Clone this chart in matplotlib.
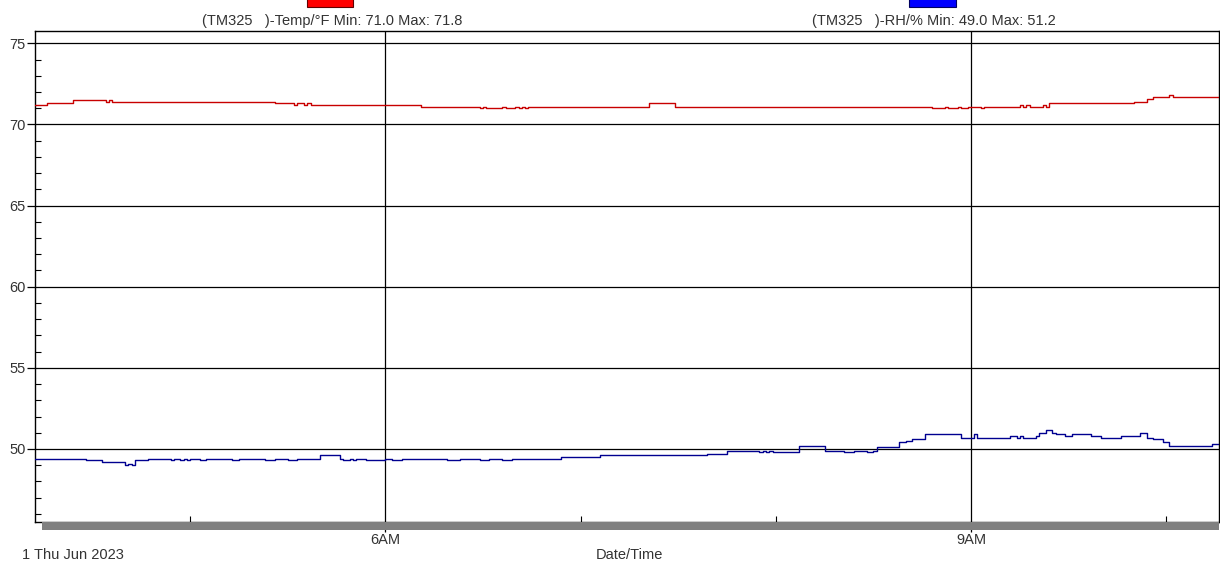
import matplotlib
matplotlib.use("Agg")
import matplotlib.pyplot as plt
from matplotlib.patches import Rectangle
from matplotlib.ticker import FixedLocator, MultipleLocator

plt.rcParams['font.family'] = ['Liberation Sans', 'DejaVu Sans']

# temperature (deg F), step changes
temp_times = ["04:12", "04:16", "04:24", "04:34", "04:35", "04:36", "05:26", "05:32",
              "05:33", "05:35", "05:36", "05:37", "06:11", "06:29", "06:30", "06:31",
              "06:36", "06:37", "06:40", "06:41", "06:42", "06:43", "06:44", "07:21",
              "07:29", "08:48", "08:52", "08:53", "08:56", "08:57", "08:59", "09:03",
              "09:04", "09:15", "09:16", "09:17", "09:18", "09:22", "09:23", "09:24",
              "09:50", "09:54", "09:56", "10:01", "10:02", "10:17"]
temp_vals = [71.2, 71.3, 71.5, 71.4, 71.5, 71.4, 71.3, 71.2,
             71.3, 71.2, 71.3, 71.2, 71.1, 71.0, 71.1, 71.0,
             71.1, 71.0, 71.1, 71.0, 71.1, 71.0, 71.1, 71.3,
             71.1, 71.0, 71.1, 71.0, 71.1, 71.0, 71.1, 71.0,
             71.1, 71.2, 71.1, 71.2, 71.1, 71.2, 71.1, 71.3,
             71.4, 71.6, 71.7, 71.8, 71.7, 71.7]

# relative humidity (%), step changes
rh_times = ["04:12", "04:28", "04:33", "04:40", "04:41", "04:42", "04:43", "04:47",
            "04:54", "04:55", "04:57", "04:58", "04:59", "05:00", "05:03", "05:05",
            "05:13", "05:15", "05:23", "05:26", "05:30", "05:33", "05:40", "05:46",
            "05:47", "05:49", "05:50", "05:51", "05:54", "06:00", "06:02", "06:05",
            "06:19", "06:23", "06:29", "06:32", "06:36", "06:39", "06:54", "07:06",
            "07:39", "07:45", "07:55", "07:56", "07:57", "07:58", "07:59", "08:07",
            "08:15", "08:21", "08:24", "08:28", "08:30", "08:31", "08:38", "08:40",
            "08:42", "08:46", "08:57", "09:01", "09:02", "09:12", "09:14", "09:15",
            "09:16", "09:20", "09:21", "09:23", "09:25", "09:26", "09:29", "09:31",
            "09:37", "09:40", "09:46", "09:52", "09:54", "09:56", "09:59", "10:01",
            "10:14", "10:17"]
rh_vals = [49.4, 49.3, 49.2, 49.0, 49.1, 49.0, 49.3, 49.4,
           49.3, 49.4, 49.3, 49.4, 49.3, 49.4, 49.3, 49.4,
           49.3, 49.4, 49.3, 49.4, 49.3, 49.4, 49.6, 49.4,
           49.3, 49.4, 49.3, 49.4, 49.3, 49.4, 49.3, 49.4,
           49.3, 49.4, 49.3, 49.4, 49.3, 49.4, 49.5, 49.6,
           49.7, 49.9, 49.8, 49.9, 49.8, 49.9, 49.8, 50.2,
           49.9, 49.8, 49.9, 49.8, 49.9, 50.1, 50.4, 50.5,
           50.6, 50.9, 50.7, 50.9, 50.7, 50.8, 50.7, 50.8,
           50.7, 50.8, 51.0, 51.2, 51.0, 50.9, 50.8, 50.9,
           50.8, 50.7, 50.8, 51.0, 50.7, 50.6, 50.4, 50.2,
           50.3, 50.3]

y_ticks = [50, 55, 60, 65, 70, 75]
x_ticks = [6, 9]
x_tick_labels = ["6AM", "9AM"]
temp_label = "(TM325   )-Temp/°F Min: 71.0 Max: 71.8"
rh_label = "(TM325   )-RH/% Min: 49.0 Max: 51.2"


def hours(t):
    h, m = t.split(":")
    return int(h) + int(m) / 60.0


W, H = 1220, 569
fig = plt.figure(figsize=(W / 100, H / 100), dpi=100)
ax = fig.add_axes([35 / W, 1 - 522 / H, 1184 / W, 491 / H])

# gray band under the time axis
fig.patches.append(Rectangle((42 / W, 1 - 530 / H), (1219 - 42) / W, 8 / H,
                             transform=fig.transFigure, facecolor="#808080",
                             edgecolor="none", zorder=0))

ax.plot([hours(t) for t in temp_times], temp_vals, drawstyle="steps-post",
        color="#c80000", lw=1.0, zorder=3)
ax.plot([hours(t) for t in rh_times], rh_vals, drawstyle="steps-post",
        color="#000090", lw=1.0, zorder=3)

ax.set_xlim(4.2054, 10.2705)
ax.set_ylim(45.5, 75.76)

ax.yaxis.set_major_locator(FixedLocator(y_ticks))
ax.yaxis.set_minor_locator(MultipleLocator(1))
ax.xaxis.set_major_locator(FixedLocator(x_ticks))
ax.xaxis.set_minor_locator(FixedLocator([5, 7, 8, 10]))
ax.set_xticklabels(x_tick_labels)

ax.grid(True, which="major", color="black", lw=0.9)
ax.set_axisbelow(True)
for s in ax.spines.values():
    s.set_linewidth(1.0)
    s.set_color("black")

ax.tick_params(axis="y", which="major", direction="out", length=6, width=0.9,
               pad=0.5, labelsize=10.5, labelcolor="#333333")
ax.tick_params(axis="y", which="minor", direction="in", length=4, width=0.8)
ax.tick_params(axis="x", which="major", direction="out", length=7.5, width=0.9,
               pad=0.5, labelsize=10.5, labelcolor="#333333")
ax.tick_params(axis="x", which="minor", direction="in", length=4.5, width=0.8)

# legend boxes and series captions
fig.patches.append(Rectangle((307 / W, 1 - 7 / H), 46 / W, 9 / H, transform=fig.transFigure,
                             facecolor="#ff0000", edgecolor="#600000", lw=0.8))
fig.patches.append(Rectangle((909 / W, 1 - 7 / H), 47 / W, 9 / H, transform=fig.transFigure,
                             facecolor="#0000ff", edgecolor="#000060", lw=0.8))
fig.text(332 / W, 1 - 20.5 / H, temp_label, ha="center", va="center",
         fontsize=10.5, color="#333333")
fig.text(934 / W, 1 - 20.5 / H, rh_label, ha="center", va="center",
         fontsize=10.5, color="#333333")

fig.text(22 / W, 1 - 555 / H, "1 Thu Jun 2023", ha="left", va="center",
         fontsize=10.5, color="#333333")
fig.text(629 / W, 1 - 555 / H, "Date/Time", ha="center", va="center",
         fontsize=10.5, color="#333333")

fig.savefig("out.png", dpi=100)
